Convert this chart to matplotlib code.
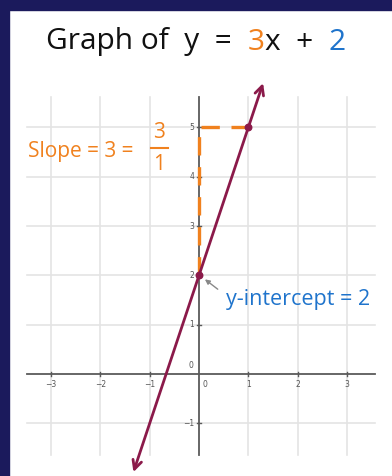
import matplotlib
matplotlib.use("Agg")
import matplotlib.pyplot as plt
from matplotlib.offsetbox import TextArea, HPacker, AnnotationBbox
from matplotlib.patches import Rectangle

slope = 3
intercept = 2
line_x = [-1.33, 1.3]
points_x = [0, 1]
x_ticks = [-3, -2, -1, 1, 2, 3]
y_ticks = [-1, 1, 2, 3, 4, 5]
x_lim = [-3.49, 3.57]
y_lim = [-1.64, 5.62]

maroon = "#8b1a4a"
orange = "#f0811e"
blue = "#1f74cc"
grid_c = "#e4e4e4"
axis_c = "#5a5a5a"
tick_c = "#555555"

fig = plt.figure(figsize=(3.92, 4.76), dpi=100)
ax = fig.add_axes([0, 0, 1, 1])
ppu = 49.3
ax.set_xlim(-199 / ppu, (392 - 199) / ppu)
ax.set_ylim((374 - 476) / ppu, 374 / ppu)
ax.axis("off")

# navy frame on left and top
fig.patches.append(Rectangle((0, 0), 9 / 392, 1, transform=fig.transFigure,
                             color="#1b1a5c", zorder=10))
fig.patches.append(Rectangle((0, 1 - 10 / 476), 1, 10 / 476, transform=fig.transFigure,
                             color="#1b1a5c", zorder=10))

# grid
for gx in x_ticks:
    ax.plot([gx, gx], y_lim, color=grid_c, lw=1.2, zorder=1)
for gy in y_ticks:
    ax.plot(x_lim, [gy, gy], color=grid_c, lw=1.2, zorder=1)

# axes
ax.plot(x_lim, [0, 0], color=axis_c, lw=1.3, zorder=2)
ax.plot([0, 0], y_lim, color=axis_c, lw=1.3, zorder=2)

for t in x_ticks:
    ax.plot([t, t], [-0.04, 0.04], color=axis_c, lw=1, zorder=2)
    ax.text(t, -0.13, str(t).replace("-", "\u2212"), fontsize=5.5, color=tick_c,
            ha="center", va="top")
for t in y_ticks:
    ax.plot([-0.04, 0.04], [t, t], color=axis_c, lw=1, zorder=2)
    ax.text(-0.1, t, str(t).replace("-", "\u2212"), fontsize=5.5, color=tick_c,
            ha="right", va="center")
ax.text(0.12, -0.13, "0", fontsize=5.5, color=tick_c, ha="center", va="top")
ax.text(-0.17, 0.08, "0", fontsize=5.5, color=tick_c, ha="center", va="bottom")

# rise / run dashes
ax.plot([0, 0, 1], [intercept, intercept + slope, intercept + slope], color=orange,
        lw=2.4, ls=(0, (5.5, 3.5)), zorder=3, solid_capstyle="butt")

# the line with arrows at both ends
line_y = [slope * v + intercept for v in line_x]
ax.annotate("", xy=(line_x[1], line_y[1]), xytext=(line_x[0], line_y[0]),
            arrowprops=dict(arrowstyle="<->", color=maroon, lw=2,
                            mutation_scale=16, shrinkA=0, shrinkB=0),
            zorder=4)
ax.scatter(points_x, [slope * v + intercept for v in points_x], s=22, color=maroon,
           zorder=5)

# title
fam = "Open Sans"
parts = [("Graph of  y  =  ", "#111111"), ("3", orange), ("x  +  ", "#111111"), ("2", blue)]
boxes = [TextArea(s, textprops=dict(color=c, fontsize=21.5, family=fam)) for s, c in parts]
pack = HPacker(children=boxes, pad=0, sep=0, align="baseline")
ab = AnnotationBbox(pack, (196 / 392, 1 - 42 / 476), xycoords="figure fraction",
                    frameon=False, box_alignment=(0.5, 0.5))
ax.add_artist(ab)

# slope label
fig.text(28 / 392, 1 - 151 / 476, "Slope = 3 =", color=orange, fontsize=15,
         family=fam, ha="left", va="center")
fig.text(159 / 392, 1 - 133 / 476, "3", color=orange, fontsize=15, family=fam,
         ha="center", va="center")
fig.text(159 / 392, 1 - 164 / 476, "1", color=orange, fontsize=15, family=fam,
         ha="center", va="center")
fig.lines.append(plt.Line2D([151 / 392, 168 / 392], [1 - 148 / 476, 1 - 148 / 476],
                            transform=fig.transFigure, color=orange, lw=1.5))

# intercept label
fig.text(226 / 392, 1 - 300 / 476, "y-intercept = 2", color=blue, fontsize=15.5,
         family=fam, ha="left", va="center")
ax.annotate("", xy=(0.12, 1.92), xytext=(0.38, 1.72),
            arrowprops=dict(arrowstyle="-|>", color="#888888", lw=1,
                            mutation_scale=7, shrinkA=0, shrinkB=0))

fig.savefig("out.png", dpi=100)
